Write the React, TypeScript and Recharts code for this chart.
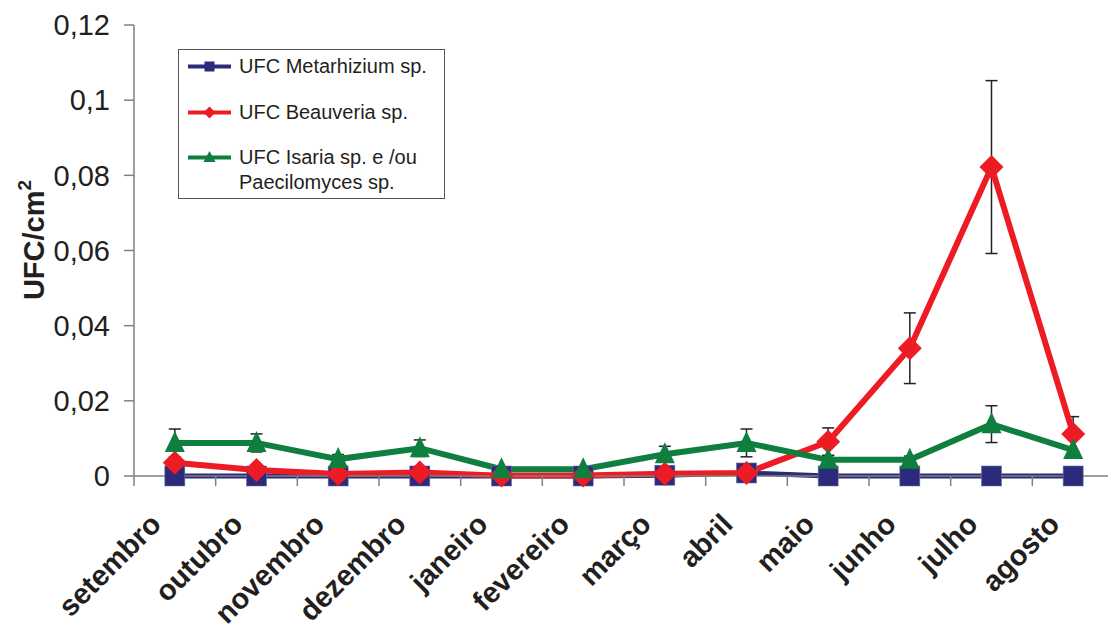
import React from 'react';
import { LineChart, Line, XAxis, YAxis, ErrorBar, Legend } from 'recharts';

const months = ['setembro', 'outubro', 'novembro', 'dezembro', 'janeiro', 'fevereiro', 'março', 'abril', 'maio', 'junho', 'julho', 'agosto'];

const metarhizium = [0, 0, 0, 0, 0, 0, 0.0002, 0.0008, 0, 0, 0, 0];
const beauveria = [0.0035, 0.0016, 0.0005, 0.0009, 0.0001, 0.0001, 0.0006, 0.0008, 0.0091, 0.034, 0.0822, 0.0112];
const beauveriaErr = [0.001, 0.0005, 0.0002, 0.0005, 0, 0, 0.0003, 0.0005, 0.0037, 0.0094, 0.023, 0.0046];
const isaria = [0.0088, 0.0088, 0.0045, 0.0074, 0.0018, 0.0018, 0.0058, 0.0088, 0.0043, 0.0043, 0.0138, 0.0069];
const isariaErr = [0.0037, 0.0024, 0.0012, 0.0022, 0, 0, 0.0021, 0.0037, 0.0012, 0.001, 0.0049, 0];

const yTicks = [0, 0.02, 0.04, 0.06, 0.08, 0.1, 0.12];

const seriesNames = ['UFC Metarhizium sp.', 'UFC Beauveria sp.', 'UFC Isaria sp. e /ou\nPaecilomyces sp.'];

const BLUE = '#2B2A7B';
const RED = '#ED1C24';
const GREEN = '#0E7F3E';
const AXIS = '#808080';
const TEXT = '#231F20';

const data = months.map((m, i) => ({
  month: m,
  meta: metarhizium[i],
  beau: beauveria[i],
  beauErr: beauveriaErr[i],
  isa: isaria[i],
  isaErr: isariaErr[i],
}));

const SquareDot = (props: any) => {
  const { cx, cy, key } = props;
  if (cx == null || cy == null) return <g key={key} />;
  return <rect key={key} x={cx - 10} y={cy - 10} width={20} height={20} fill={BLUE} stroke="#6f6fa0" strokeWidth={0.6} />;
};

const DiamondDot = (props: any) => {
  const { cx, cy, key } = props;
  if (cx == null || cy == null) return <g key={key} />;
  const r = 12;
  return <polygon key={key} points={`${cx},${cy - r} ${cx + r},${cy} ${cx},${cy + r} ${cx - r},${cy}`} fill={RED} />;
};

const TriangleDot = (props: any) => {
  const { cx, cy, key } = props;
  if (cx == null || cy == null) return <g key={key} />;
  return <polygon key={key} points={`${cx},${cy - 12} ${cx + 10},${cy + 9} ${cx - 10},${cy + 9}`} fill={GREEN} />;
};

// month label rotated -45 plus boundary tick marks between categories
const MonthTick = (props: any) => {
  const { x, y, payload, index } = props;
  const off = payload.offset ?? 0;
  return (
    <g>
      {index === 0 && <line x1={x - off} y1={y} x2={x - off} y2={y + 10} stroke={AXIS} strokeWidth={1.5} />}
      <line x1={x + off} y1={y} x2={x + off} y2={y + 10} stroke={AXIS} strokeWidth={1.5} />
      <text
        x={x - 12}
        y={y + 50}
        transform={`rotate(-45, ${x - 12}, ${y + 50})`}
        textAnchor="end"
        fontSize={29}
        fontWeight="bold"
        fill={TEXT}
      >
        {payload.value}
      </text>
    </g>
  );
};

const LegendIcon = ({ idx }: { idx: number }) => {
  const color = [BLUE, RED, GREEN][idx];
  return (
    <svg width={43} height={25} style={{ flex: 'none' }}>
      <line x1={0} y1={12.5} x2={43} y2={12.5} stroke={color} strokeWidth={4} />
      {idx === 0 && <rect x={16.5} y={7.5} width={10} height={10} fill={color} />}
      {idx === 1 && <polygon points="21.5,6.5 27.5,12.5 21.5,18.5 15.5,12.5" fill={color} />}
      {idx === 2 && <polygon points="21.5,6 27.5,17 15.5,17" fill={color} />}
    </svg>
  );
};

const LegendBox = () => (
  <div
    style={{
      width: 256,
      height: 144,
      border: '1.5px solid #555',
      background: '#fff',
      padding: '4px 0 0 9px',
      boxSizing: 'content-box',
      fontSize: 20,
      color: TEXT,
      lineHeight: '25px',
    }}
  >
    {seriesNames.map((name, i) => (
      <div key={name} style={{ display: 'flex', alignItems: 'flex-start', marginTop: i === 0 ? 0 : i === 1 ? 21 : 20 }}>
        <LegendIcon idx={i} />
        <div style={{ marginLeft: 8, whiteSpace: 'pre' }}>{name}</div>
      </div>
    ))}
  </div>
);

const YLabel = () => (
  <text
    x={44}
    y={240}
    transform="rotate(-90, 44, 240)"
    textAnchor="middle"
    fontSize={29}
    fontWeight="bold"
    fill={TEXT}
  >
    UFC/cm<tspan fontSize={19} dy={-13}>2</tspan>
  </text>
);

export default function App() {
  return (
    <div
      style={{
        position: 'fixed',
        left: 0,
        top: 0,
        width: 1108,
        height: 625,
        overflow: 'hidden',
        background: '#fff',
        fontFamily: '"Liberation Sans", Arial, sans-serif',
      }}
    >
      <LineChart width={1120} height={625} data={data} margin={{ top: 25, right: 6, bottom: 0, left: 0 }}>
        <XAxis
          dataKey="month"
          scale="band"
          interval={0}
          height={149}
          tickLine={false}
          tickSize={0}
          tickMargin={0}
          axisLine={{ stroke: AXIS, strokeWidth: 1.5 }}
          tick={<MonthTick />}
        />
        <YAxis
          domain={[0, 0.12]}
          ticks={yTicks}
          width={134}
          tickSize={10}
          tickMargin={14}
          axisLine={{ stroke: AXIS, strokeWidth: 1.5 }}
          tickLine={{ stroke: AXIS, strokeWidth: 1.5 }}
          tick={{ fontSize: 29, fill: TEXT }}
          tickFormatter={(v: number) => String(v).replace('.', ',')}
          label={{ content: () => <YLabel /> }}
        />
        <Legend
          layout="vertical"
          align="center"
          verticalAlign="middle"
          wrapperStyle={{ left: 178, top: 49, width: 'auto' }}
          content={() => <LegendBox />}
        />
        <Line
          dataKey="meta"
          stroke={BLUE}
          strokeWidth={5}
          dot={(p: any) => <SquareDot {...p} />}
          activeDot={false}
          isAnimationActive={false}
        />
        <Line
          dataKey="beau"
          stroke={RED}
          strokeWidth={6}
          dot={(p: any) => <DiamondDot {...p} />}
          activeDot={false}
          isAnimationActive={false}
        >
          <ErrorBar dataKey="beauErr" direction="y" width={6} stroke="#222" strokeWidth={1.5} />
        </Line>
        <Line
          dataKey="isa"
          stroke={GREEN}
          strokeWidth={6}
          dot={(p: any) => <TriangleDot {...p} />}
          activeDot={false}
          isAnimationActive={false}
        >
          <ErrorBar dataKey="isaErr" direction="y" width={6} stroke="#222" strokeWidth={1.5} />
        </Line>
      </LineChart>
    </div>
  );
}
